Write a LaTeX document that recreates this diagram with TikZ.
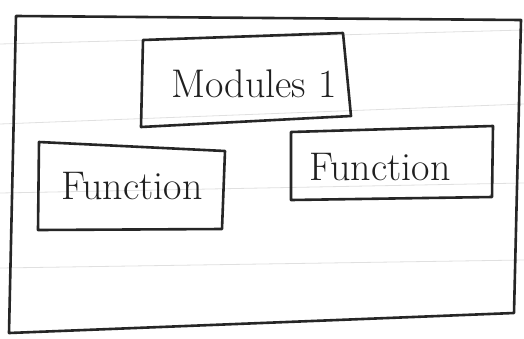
\documentclass[tikz,border=0pt]{standalone}
\begin{document}
\begin{tikzpicture}[x=1pt,y=-1pt,
  ink/.style={draw=black!85, line width=2.6pt, line join=round, line cap=round},
  paper/.style={draw=black!12, line width=0.8pt},
  label/.style={font=\fontsize{40}{44}\selectfont, text=black!88, inner sep=0pt}]
\useasboundingbox (0,0) rectangle (524,338);
\fill[white] (0,0) rectangle (524,338);
% ruled paper lines
\draw[paper] (0,44) -- (524,30);
\draw[paper] (0,124) -- (524,104);
\draw[paper] (0,193) -- (524,183);
\draw[paper] (0,268) -- (524,260);
% outer frame
\draw[ink] (16,16) -- (521,20) -- (514,313) -- (9,333) -- cycle;
% Modules box
\draw[ink] (143,40) -- (343,33) -- (351,116) -- (141,127) -- cycle;
\node[label] (mod) at (254,84) {Modules 1};
% left Function box
\draw[ink] (39,142) -- (225,151) -- (222,229) -- (38,230) -- cycle;
\node[label] (f1) at (132,186) {Function};
% right Function box
\draw[ink] (291,132) -- (493,126) -- (492,197) -- (291,200) -- cycle;
\node[label] (f2) at (380,167) {Function};
\end{tikzpicture}
\end{document}
